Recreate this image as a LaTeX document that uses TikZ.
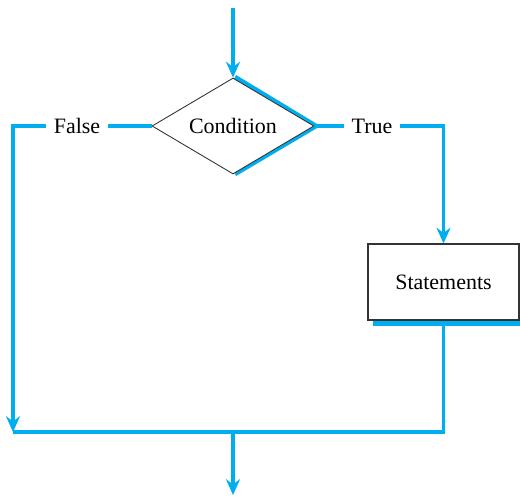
\documentclass[tikz,border=0pt]{standalone}
\usepackage{fontspec}
\setmainfont{Liberation Serif}
\newfontfamily\flowfont{Liberation Serif}
\usetikzlibrary{shapes.geometric,arrows.meta}
\definecolor{flowblue}{RGB}{0,174,239}
\begin{document}
\begin{tikzpicture}[x=0.02cm,y=-0.02cm,font=\flowfont\fontsize{12.5}{15}\selectfont]
\tikzstyle{flow}=[draw=flowblue,line width=2pt]
\tikzstyle{arr}=[flow,-{Stealth[length=9pt,width=8pt,inset=3pt]}]
\tikzstyle{decision}=[diamond,draw=black!80,fill=white,line width=0.5pt,aspect=1.69,minimum width=3.24cm,minimum height=1.92cm,inner sep=1pt]
\tikzstyle{process}=[rectangle,draw=black!80,fill=white,line width=0.6pt,minimum width=3.02cm,minimum height=1.52cm]
\tikzstyle{lbl}=[inner sep=4pt]
 \useasboundingbox (0,0) rectangle (520,497);
 \coordinate (start) at (233,8);
 \coordinate (joinL) at (13,432);
 \coordinate (joinM) at (233,432);
 \coordinate (finish) at (233,495);
 % shadows
 \draw[flowblue,line width=2.6pt] (235,77) -- (316,126) -- (235,174);
 \fill[flowblue] (373,319) rectangle (520,326);
 \node[decision] (cond) at (233,126) {Condition};
 \node[process] (stmt) at (443.5,282) {Statements};
 \node[lbl] (false) at (77,126) {False};
 \node[lbl] (true) at (372,126) {True};
 \draw [arr] (start) -- (cond.north);
 \draw [flow] (cond.west) -- (false);
 \draw [arr] (false) -| (joinL);
 \draw [flow] (cond.east) -- (true);
 \draw [arr] (true) -| (stmt.north);
 \draw [flow] (stmt.south) |- (joinL);
 \draw [arr] (joinM) -- (finish);
\end{tikzpicture}
\end{document}
